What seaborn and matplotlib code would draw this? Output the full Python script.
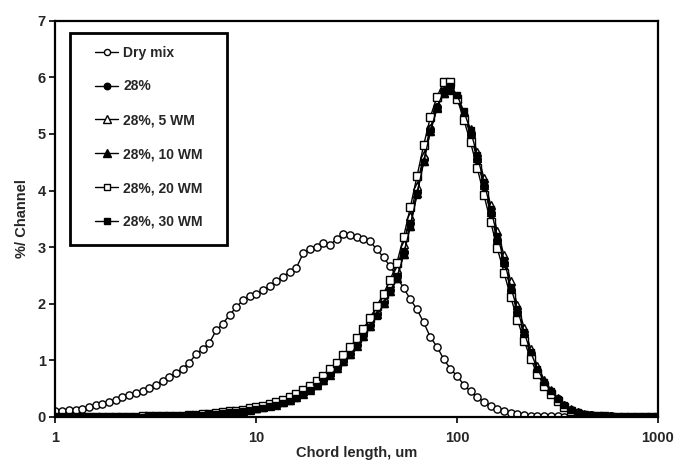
import numpy as np
import matplotlib
matplotlib.use("Agg")
import matplotlib.pyplot as plt
from matplotlib.patches import Rectangle
import seaborn as sns

# Channel grid: 91 log-spaced chord-length channels, 1 to 1000 um
chord = np.logspace(0, 3, 91)

dry_mix = [0.10, 0.11, 0.12, 0.12, 0.14, 0.17, 0.21, 0.23, 0.27, 0.30,
           0.35, 0.39, 0.43, 0.46, 0.52, 0.57, 0.64, 0.70, 0.77, 0.85,
           0.96, 1.11, 1.20, 1.31, 1.53, 1.65, 1.80, 1.94, 2.06, 2.13,
           2.17, 2.24, 2.31, 2.40, 2.48, 2.56, 2.64, 2.89, 2.96, 3.01,
           3.08, 3.04, 3.14, 3.23, 3.22, 3.17, 3.14, 3.10, 2.96, 2.82,
           2.66, 2.47, 2.28, 2.08, 1.90, 1.67, 1.41, 1.24, 1.02, 0.85,
           0.72, 0.57, 0.45, 0.35, 0.27, 0.19, 0.14, 0.10, 0.07, 0.05,
           0.03, 0.02, 0.02, 0.01, 0.01, 0.01, 0.00, 0.00, 0.00, 0.00,
           0.00, 0.00, 0.00, 0.00, 0.00, 0.00, 0.00, 0.00, 0.00, 0.00, 0.00]

w28 = [0.00, 0.00, 0.00, 0.00, 0.00, 0.00, 0.00, 0.00, 0.00, 0.00,
       0.00, 0.00, 0.00, 0.00, 0.01, 0.01, 0.01, 0.02, 0.02, 0.02,
       0.03, 0.04, 0.05, 0.06, 0.07, 0.08, 0.09, 0.10, 0.12, 0.13,
       0.15, 0.17, 0.20, 0.23, 0.27, 0.31, 0.36, 0.42, 0.49, 0.57,
       0.66, 0.76, 0.87, 0.99, 1.12, 1.27, 1.44, 1.62, 1.82, 2.03,
       2.25, 2.50, 2.92, 3.42, 3.98, 4.55, 5.08, 5.48, 5.75, 5.82,
       5.62, 5.32, 5.00, 4.55, 4.08, 3.60, 3.12, 2.72, 2.25, 1.85,
       1.45, 1.10, 0.82, 0.60, 0.44, 0.31, 0.20, 0.12, 0.07, 0.04,
       0.03, 0.02, 0.01, 0.01, 0.00, 0.00, 0.00, 0.00, 0.00, 0.00, 0.00]

w28_5wm = [0.00, 0.00, 0.00, 0.00, 0.00, 0.00, 0.00, 0.00, 0.00, 0.00,
           0.00, 0.00, 0.00, 0.01, 0.01, 0.01, 0.01, 0.02, 0.02, 0.02,
           0.03, 0.04, 0.05, 0.06, 0.07, 0.08, 0.09, 0.11, 0.12, 0.14,
           0.16, 0.19, 0.22, 0.25, 0.29, 0.34, 0.39, 0.45, 0.52, 0.60,
           0.70, 0.80, 0.92, 1.04, 1.18, 1.34, 1.51, 1.70, 1.90, 2.12,
           2.36, 2.62, 3.05, 3.55, 4.08, 4.62, 5.10, 5.48, 5.72, 5.78,
           5.64, 5.38, 5.08, 4.68, 4.22, 3.75, 3.28, 2.86, 2.40, 1.98,
           1.58, 1.20, 0.90, 0.66, 0.48, 0.34, 0.22, 0.14, 0.08, 0.05,
           0.03, 0.02, 0.01, 0.01, 0.00, 0.00, 0.00, 0.00, 0.00, 0.00, 0.00]

w28_10wm = [0.00, 0.00, 0.00, 0.00, 0.00, 0.00, 0.00, 0.00, 0.00, 0.00,
            0.00, 0.00, 0.00, 0.00, 0.01, 0.01, 0.01, 0.01, 0.02, 0.02,
            0.03, 0.03, 0.04, 0.05, 0.06, 0.07, 0.08, 0.10, 0.11, 0.13,
            0.15, 0.17, 0.19, 0.22, 0.26, 0.30, 0.35, 0.41, 0.48, 0.56,
            0.65, 0.75, 0.86, 0.98, 1.11, 1.26, 1.43, 1.61, 1.81, 2.01,
            2.22, 2.46, 2.88, 3.38, 3.95, 4.52, 5.05, 5.45, 5.72, 5.80,
            5.64, 5.35, 5.02, 4.58, 4.10, 3.62, 3.15, 2.74, 2.28, 1.88,
            1.47, 1.12, 0.83, 0.61, 0.45, 0.32, 0.21, 0.13, 0.08, 0.04,
            0.03, 0.02, 0.01, 0.01, 0.00, 0.00, 0.00, 0.00, 0.00, 0.00, 0.00]

w28_20wm = [0.00, 0.00, 0.00, 0.00, 0.00, 0.00, 0.00, 0.00, 0.00, 0.00,
            0.00, 0.00, 0.00, 0.01, 0.01, 0.01, 0.01, 0.02, 0.02, 0.02,
            0.03, 0.04, 0.05, 0.06, 0.07, 0.08, 0.10, 0.11, 0.13, 0.15,
            0.17, 0.20, 0.23, 0.26, 0.30, 0.35, 0.41, 0.47, 0.55, 0.63,
            0.73, 0.84, 0.96, 1.09, 1.23, 1.39, 1.56, 1.75, 1.96, 2.18,
            2.42, 2.72, 3.18, 3.70, 4.25, 4.80, 5.30, 5.66, 5.92, 5.92,
            5.62, 5.25, 4.85, 4.40, 3.92, 3.45, 2.98, 2.55, 2.12, 1.72,
            1.35, 1.02, 0.76, 0.55, 0.40, 0.28, 0.18, 0.11, 0.06, 0.04,
            0.02, 0.01, 0.01, 0.00, 0.00, 0.00, 0.00, 0.00, 0.00, 0.00, 0.00]

w28_30wm = [0.00, 0.00, 0.00, 0.00, 0.00, 0.00, 0.00, 0.00, 0.00, 0.00,
            0.00, 0.00, 0.00, 0.00, 0.01, 0.01, 0.01, 0.01, 0.02, 0.02,
            0.03, 0.03, 0.04, 0.05, 0.06, 0.07, 0.08, 0.09, 0.11, 0.12,
            0.14, 0.16, 0.19, 0.22, 0.25, 0.29, 0.34, 0.40, 0.47, 0.55,
            0.64, 0.74, 0.85, 0.97, 1.10, 1.25, 1.41, 1.59, 1.79, 1.99,
            2.20, 2.44, 2.86, 3.36, 3.92, 4.50, 5.04, 5.46, 5.76, 5.85,
            5.68, 5.40, 5.06, 4.62, 4.15, 3.68, 3.20, 2.78, 2.30, 1.90,
            1.50, 1.14, 0.85, 0.62, 0.46, 0.32, 0.21, 0.13, 0.08, 0.05,
            0.03, 0.02, 0.01, 0.01, 0.00, 0.00, 0.00, 0.00, 0.00, 0.00, 0.00]

series_names = ["Dry mix", "28%", "28%, 5 WM", "28%, 10 WM", "28%, 20 WM", "28%, 30 WM"]
series_values = [dry_mix, w28, w28_5wm, w28_10wm, w28_20wm, w28_30wm]

x_ticks = [1, 10, 100, 1000]
x_tick_labels = ["1", "10", "100", "1000"]
y_ticks = [0, 1, 2, 3, 4, 5, 6, 7]

sns.set_theme(style="white")
plt.rcParams['font.family'] = ['Liberation Sans', 'DejaVu Sans']
plt.rcParams['font.weight'] = 'bold'

styles = [
    dict(marker='o', markersize=5.2, markerfacecolor='white'),
    dict(marker='o', markersize=5.5, markerfacecolor='black'),
    dict(marker='^', markersize=6.0, markerfacecolor='white'),
    dict(marker='^', markersize=6.0, markerfacecolor='black'),
    dict(marker='s', markersize=5.5, markerfacecolor='white'),
    dict(marker='s', markersize=4.5, markerfacecolor='black'),
]

fig = plt.figure(figsize=(6.8, 4.63), dpi=100)
ax = fig.add_axes([0.0816, 0.0994, 0.886, 0.856])

for name, vals, st in zip(series_names, series_values, styles):
    sns.lineplot(x=chord, y=vals, ax=ax, color='black', linewidth=1.0,
                 markeredgecolor='black', markeredgewidth=1.0, label=name,
                 sort=False, **st)

ax.set_xscale('log')
ax.set_xlim(1, 1000)
ax.set_ylim(0, 7)
ax.set_xticks(x_ticks)
ax.set_xticklabels(x_tick_labels)
ax.minorticks_off()
ax.set_yticks(y_ticks)

for sp in ax.spines.values():
    sp.set_color('black')
    sp.set_linewidth(1.6)

ax.tick_params(axis='both', which='major', direction='out', length=4, width=1.2,
               color='black', labelsize=10.5, bottom=True, left=True)
ax.tick_params(axis='x', pad=6)
ax.tick_params(axis='y', pad=3)
for lab in ax.get_xticklabels() + ax.get_yticklabels():
    lab.set_fontweight('bold')

ax.set_xlabel("Chord length, um", fontsize=10.5, fontweight='bold', labelpad=1)
ax.set_ylabel("%/ Channel", fontsize=10.5, fontweight='bold', labelpad=6)

leg = ax.legend(loc='upper left', bbox_to_anchor=(0.0656, 0.937), borderaxespad=0,
                frameon=False, prop={'weight': 'bold', 'size': 10},
                handlelength=1.66, handletextpad=0.36, labelspacing=1.43,
                borderpad=0.0, markerscale=0.85)

# Legend frame drawn as a separate box (square corners, thick border)
ax.add_patch(Rectangle((0.0241, 0.434), 0.2605, 0.535, transform=ax.transAxes,
                       fill=False, edgecolor='black', linewidth=2.0, zorder=5,
                       clip_on=False))

fig.savefig("out.png", dpi=100)
